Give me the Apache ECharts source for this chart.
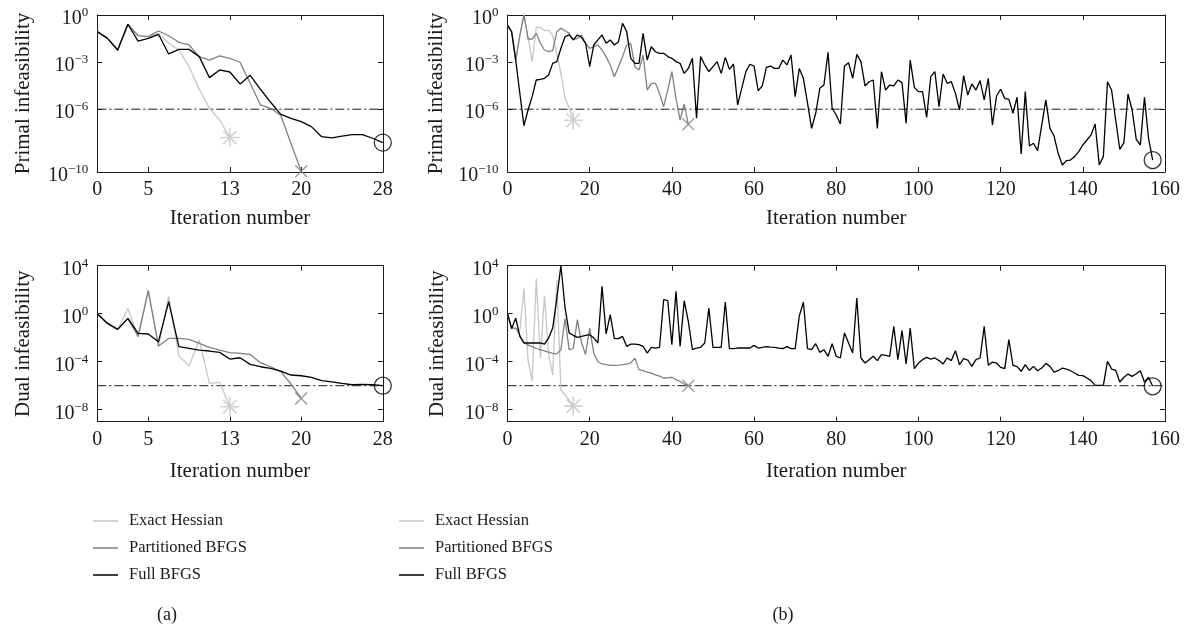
<!DOCTYPE html>
<html><head><meta charset="utf-8">
<script src="https://cdn.jsdelivr.net/npm/echarts@6/dist/echarts.min.js"></script>
<style>html,body{margin:0;padding:0;background:#fff}#c{width:1190px;height:631px}</style>
</head><body><div id="c"></div><script>
// ---- Data (values stored as log10 of the infeasibility) ----
const seriesNames = ['Exact Hessian', 'Partitioned BFGS', 'Full BFGS'];
const toleranceLog10 = -6;

const xTicksA = [0, 5, 13, 20, 28];
const xTicksB = [0, 20, 40, 60, 80, 100, 120, 140, 160];
const yTicksPrimal = [0, -3, -6, -10];
const yTicksDual = [4, 0, -4, -8];

// (a) primal infeasibility
const primalA_exact = [-1.06,-1.49,-2.23,-0.59,-1.32,-1.38,-1.2,-1.8,-2.23,-3.29,-4.73,-5.94,-6.69,-7.80];
const primalA_part  = [-1.06,-1.49,-2.23,-0.59,-1.32,-1.38,-1.02,-1.32,-1.74,-1.91,-2.65,-2.87,-2.61,-2.76,-3.01,-4.35,-5.73,-5.94,-6.4,-8.2,-9.95];
const primalA_full  = [-1.06,-1.49,-2.23,-0.59,-1.66,-1.49,-1.23,-2.48,-2.19,-2.19,-2.65,-3.99,-3.50,-3.63,-4.39,-3.84,-4.73,-5.56,-6.33,-6.58,-6.79,-7.11,-7.75,-7.83,-7.71,-7.62,-7.62,-7.85,-8.13];
// (a) dual infeasibility
const dualA_exact = [0,-0.81,-1.31,0.44,-1.92,1.97,-2.75,1.42,-3.53,-4.36,-2.19,-5.81,-5.72,-7.75];
const dualA_part  = [0,-0.81,-1.31,-0.39,-1.9,1.9,-2.69,-2.06,-2.06,-2.14,-2.47,-2.81,-3.03,-3.25,-3.31,-3.39,-4.08,-4.42,-4.83,-5.86,-7.06];
const dualA_full  = [0,-0.81,-1.31,-0.39,-1.64,-1.69,-2.33,1.0,-2.75,-2.89,-3.03,-3.11,-3.22,-3.78,-3.67,-4.22,-4.42,-4.56,-4.78,-5.11,-5.17,-5.31,-5.58,-5.69,-5.81,-5.92,-5.89,-5.92,-6.0];

// (b) primal infeasibility
const primalB_exact = [-0.64,-1.06,-2.87,-1.3,0,-1.38,-2.97,-0.78,-0.8,-1.0,-0.96,-1.3,-2.5,-3.7,-5.3,-5.9,-6.7];
const primalB_part  = [-0.64,-1.06,-2.87,-1.3,0,-1.53,-1.53,-1.17,-1.80,-2.23,-2.34,-2.27,-1.06,-0.85,-1.0,-1.17,-1.59,-1.49,-1.27,-1.80,-2.12,-2.02,-1.91,-2.23,-2.65,-3.18,-3.93,-3.29,-2.65,-1.91,-1.80,-3.29,-3.50,-2.55,-4.78,-4.35,-4.35,-4.99,-5.84,-4.78,-3.61,-5.31,-6.69,-5.67,-6.96];
const primalB_full  = [-0.64,-1.06,-2.87,-4.99,-7.05,-6.05,-5.2,-4.14,-4.1,-4.03,-3.82,-3.08,-2.97,-2.12,-1.38,-1.27,-1.59,-1.27,-1.42,-1.80,
  -3.29,-1.91,-1.59,-1.27,-1.80,-1.59,-1.91,-1.70,-0.53,-1.06,-2.76,-3.08,-3.08,-1.17,-2.87,-2.02,-2.34,-2.44,-2.44,-2.65,
  -2.76,-2.97,-3.08,-3.72,-3.40,-2.76,-6.58,-2.65,-3.18,-3.61,-3.29,-2.97,-3.72,-2.70,-3.46,-3.12,-5.73,-4.67,-3.61,-3.14,
  -3.25,-4.82,-4.52,-3.33,-3.25,-3.40,-3.40,-2.87,-3.18,-2.55,-5.20,-3.40,-4.03,-5.6,-7.22,-6.26,-4.67,-4.46,-2.38,-5.94,
  -6.37,-6.94,-3.25,-3.04,-4.03,-2.51,-2.97,-4.52,-4.25,-4.14,-7.22,-3.61,-4.78,-4.46,-4.52,-4.14,-4.31,-6.90,-2.87,-4.61,
  -4.88,-4.88,-6.52,-3.93,-3.61,-5.84,-3.76,-4.35,-4.25,-4.99,-6.05,-3.86,-5.10,-4.39,-4.78,-4.18,-5.41,-4.03,-7.01,-5.16,
  -4.73,-5.31,-5.37,-6.26,-5.24,-8.85,-4.88,-8.34,-8.17,-8.64,-7.01,-5.41,-7.22,-7.71,-8.81,-9.55,-9.28,-9.24,-9.02,-8.70,
  -8.28,-7.96,-7.64,-6.94,-9.55,-9.02,-4.25,-4.78,-6.69,-8.56,-8.13,-5.03,-6.05,-7.92,-8.28,-5.24,-7.86,-9.24];
// (b) dual infeasibility
const dualB_exact = [0,-1.2,-1.2,-1.4,2.1,-3.9,-5.6,2.9,-3.7,1.5,-3.4,-5.1,2.8,-6.4,-6.75,-7.2,-7.7];
const dualB_part  = [0,-1.2,-1.2,-1.8,-2.4,-2.6,-2.75,-2.9,-3.0,-3.1,-3.2,-3.3,-3.35,-3.0,-0.4,-3.0,-2.9,-0.5,-2.4,-3.4,-1.2,-3.3,
  -4.0,-4.19,-4.25,-4.3,-4.3,-4.28,-4.25,-4.2,-4.1,-3.7,-4.66,-4.75,-4.86,-4.95,-5.1,-5.2,-5.36,-5.35,-5.3,-5.5,-5.65,-5.86,-6.0];
const dualB_full  = [0,-1.25,-0.36,-1.89,-2.44,-2.44,-2.44,-2.44,-2.44,-2.53,-2.03,-1.2,1.3,4.0,0.5,-1.6,-1.8,-1.97,-1.89,-1.8,
  -1.75,-2.03,-2.44,2.28,-1.69,-0.08,-2.08,-2.08,-1.89,-2.72,-2.53,-2.53,-2.58,-2.72,-3.28,-2.80,-2.86,-2.80,1.17,1.08,
  -2.58,1.86,-2.72,1.08,-0.64,-3.0,-2.86,-2.80,-2.44,0.47,-2.80,-2.80,-2.80,0.97,-2.91,-2.91,-2.86,-2.86,-2.86,-2.86,
  -2.64,-2.86,-2.80,-2.75,-2.78,-2.80,-2.86,-2.91,-2.75,-2.91,-2.91,-0.2,0.97,-2.91,-3.0,-2.5,-3.22,-3.0,-3.55,-2.5,
  -3.55,-3.69,-1.61,-2.44,-3.28,1.31,-3.69,-4.11,-3.83,-3.55,-3.91,-3.41,-3.47,-3.55,-1.06,-3.83,-1.41,-4.19,-1.19,-4.58,
  -4.11,-3.83,-3.64,-3.78,-3.69,-3.91,-4.19,-3.69,-3.91,-3.08,-4.25,-3.75,-3.86,-4.39,-3.83,-3.69,-1.06,-4.30,-4.03,-4.11,
  -4.47,-4.58,-2.16,-4.30,-4.41,-4.80,-4.25,-4.72,-4.39,-4.75,-4.53,-4.14,-4.39,-4.86,-4.75,-4.53,-4.61,-4.75,-4.94,-5.14,
  -5.16,-5.36,-5.58,-5.97,-5.97,-5.97,-3.97,-4.61,-4.72,-5.69,-5.30,-5.03,-5.22,-5.0,-4.75,-5.69,-5.30,-6.05];

// ---- Styling ----
const FONT = 'Liberation Serif';
const INK = '#1a1a1a';
const COLORS = ['#c6c6c6', '#808080', '#000000'];
const SYMBOLS = [
  'path://M10 0 L10 20 M0 10 L20 10 M2.93 2.93 L17.07 17.07 M2.93 17.07 L17.07 2.93',
  'path://M0 0 L10 10 M0 10 L10 0',
  'circle'
];
const SYMSIZE = [19, 12, 17];

const grids = [
  {left: 97.3, top: 15, width: 285.5, height: 157},
  {left: 507.5, top: 15, width: 657.5, height: 157},
  {left: 97.3, top: 265.7, width: 285.5, height: 156},
  {left: 507.5, top: 265.7, width: 657.5, height: 156}
];

const xAxis = [], yAxis = [], series = [];

function supLabel(v) {
  return '{b|10}{s|' + (v < 0 ? '\u2212' : '') + Math.abs(v) + '}';
}

function addPanel(gi, xmax, xticks, ymin, ymax, yticks, yname, yGap, dataList) {
  const axLine = {show: true, onZero: false, lineStyle: {color: INK, width: 1}};
  const xi = xAxis.length, yi = yAxis.length;
  const xt = {show: true, inside: true, length: 5, customValues: xticks, lineStyle: {color: INK, width: 1}};
  const yt = {show: true, inside: true, length: 5, customValues: yticks, lineStyle: {color: INK, width: 1}};
  xAxis.push({
    gridIndex: gi, type: 'value', min: 0, max: xmax, position: 'bottom',
    axisLine: axLine, splitLine: {show: false}, axisTick: xt,
    axisLabel: {customValues: xticks, fontFamily: FONT, fontSize: 20, color: INK, margin: 8},
    name: 'Iteration number', nameLocation: 'middle', nameGap: gi < 2 ? 36 : 39,
    nameTextStyle: {fontFamily: FONT, fontSize: 21, color: INK}
  });
  xAxis.push({
    gridIndex: gi, type: 'value', min: 0, max: xmax, position: 'top',
    axisLine: axLine, splitLine: {show: false}, axisTick: xt, axisLabel: {show: false}
  });
  yAxis.push({
    gridIndex: gi, type: 'value', min: ymin, max: ymax, position: 'left',
    axisLine: axLine, splitLine: {show: false}, axisTick: yt,
    axisLabel: {
      customValues: yticks, formatter: supLabel, margin: 9, color: INK, padding: [5, 0, 0, 0],
      rich: {
        b: {fontFamily: FONT, fontSize: 20, lineHeight: 23, verticalAlign: 'bottom', color: INK},
        s: {fontFamily: FONT, fontSize: 13, lineHeight: 13, verticalAlign: 'top', color: INK}
      }
    },
    name: yname, nameLocation: 'middle', nameRotate: 90, nameGap: yGap,
    nameTextStyle: {fontFamily: FONT, fontSize: 21, color: INK}
  });
  yAxis.push({
    gridIndex: gi, type: 'value', min: ymin, max: ymax, position: 'right',
    axisLine: axLine, splitLine: {show: false}, axisTick: yt, axisLabel: {show: false}
  });

  // tolerance line
  series.push({
    type: 'line', xAxisIndex: xi, yAxisIndex: yi, silent: true, symbol: 'none',
    data: [[0, toleranceLog10], [xmax, toleranceLog10]],
    lineStyle: {color: INK, width: 1, type: [9, 3, 2, 3]}, z: 1
  });
  dataList.forEach((arr, k) => {
    series.push({
      type: 'line', name: seriesNames[k], xAxisIndex: xi, yAxisIndex: yi,
      data: arr.map((v, i) => [i, v]), symbol: 'none', showSymbol: false,
      color: COLORS[k], itemStyle: {color: COLORS[k]},
      lineStyle: {color: COLORS[k], width: 1.3}, z: 2 + k
    });
  });
  dataList.forEach((arr, k) => {
    const n = arr.length - 1;
    series.push({
      type: 'scatter', xAxisIndex: xi, yAxisIndex: yi, silent: true, clip: false,
      data: [[n, arr[n]]], symbol: SYMBOLS[k], symbolSize: SYMSIZE[k], symbolKeepAspect: true,
      itemStyle: {color: 'rgba(0,0,0,0)', borderColor: COLORS[k], borderWidth: k === 0 ? 1.6 : 1.3},
      z: 6
    });
  });
}

addPanel(0, 28, xTicksA, -10, 0, yTicksPrimal, 'Primal infeasibility', 63, [primalA_exact, primalA_part, primalA_full]);
addPanel(1, 160, xTicksB, -10, 0, yTicksPrimal, 'Primal infeasibility', 60, [primalB_exact, primalB_part, primalB_full]);
addPanel(2, 28, xTicksA, -9, 4, yTicksDual, 'Dual infeasibility', 63, [dualA_exact, dualA_part, dualA_full]);
addPanel(3, 160, xTicksB, -9, 4, yTicksDual, 'Dual infeasibility', 60, [dualB_exact, dualB_part, dualB_full]);

const legendBase = {
  data: seriesNames, orient: 'vertical', top: 512, padding: 0, icon: 'rect', itemWidth: 25, itemHeight: 1.5,
  itemGap: 9, selectedMode: false,
  textStyle: {fontFamily: FONT, fontSize: 16.5, lineHeight: 18, color: INK, padding: [0, 0, 0, 6]}
};

const chart = echarts.init(document.getElementById('c'), null, {renderer: 'canvas'});
chart.setOption({
  animation: false,
  backgroundColor: '#ffffff',
  grid: grids,
  xAxis, yAxis, series,
  legend: [Object.assign({left: 93}, legendBase), Object.assign({left: 399}, legendBase)],
  graphic: [
    {type: 'text', x: 167, y: 615, style: {text: '(a)', font: '18px "Liberation Serif"', fill: INK, align: 'center', verticalAlign: 'middle'}},
    {type: 'text', x: 783, y: 615, style: {text: '(b)', font: '18px "Liberation Serif"', fill: INK, align: 'center', verticalAlign: 'middle'}}
  ]
});
</script></body></html>
